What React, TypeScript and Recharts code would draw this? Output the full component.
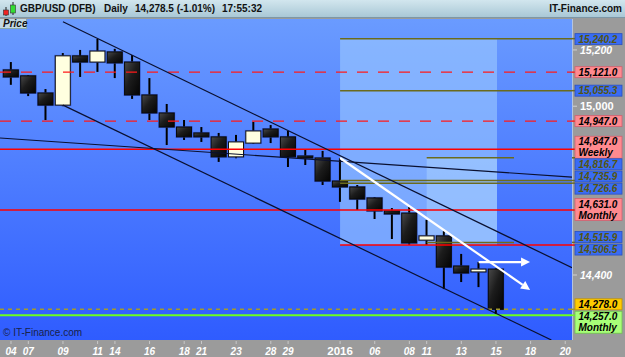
import React from 'react';
import { ComposedChart, Bar, XAxis, YAxis, ReferenceLine, ReferenceArea } from 'recharts';

const FONT = "'Liberation Sans', Arial, sans-serif";

// ---- candle data (GBP/USD x10000, daily) ----
const candleDates = ['2015-12-04','2015-12-07','2015-12-08','2015-12-09','2015-12-10','2015-12-11','2015-12-14','2015-12-15','2015-12-16','2015-12-17','2015-12-18','2015-12-21','2015-12-22','2015-12-23','2015-12-24','2015-12-28','2015-12-29','2015-12-30','2015-12-31','2016-01-04','2016-01-05','2016-01-06','2016-01-07','2016-01-08','2016-01-11','2016-01-12','2016-01-13','2016-01-14','2016-01-15'];
const opens  = [15129,15108,15047,15004,15179,15157,15193,15157,15040,14976,14926,14905,14891,14820,14869,14919,14891,14823,14816,14734,14713,14674,14628,14620,14524,14539,14432,14411,14421];
const highs  = [15157,15111,15061,15189,15200,15239,15204,15182,15100,15008,14951,14926,14905,14898,14944,14933,14912,14848,14841,14816,14720,14677,14638,14642,14596,14556,14475,14446,14425];
const lows   = [15076,15036,14951,15000,15104,15122,15100,15026,14951,14862,14880,14873,14802,14815,14866,14869,14784,14791,14720,14660,14631,14599,14528,14507,14507,14350,14375,14357,14261];
const closes = [15104,15047,15004,15179,15157,15196,15154,15040,14976,14926,14891,14891,14820,14873,14912,14891,14820,14816,14734,14713,14670,14628,14617,14514,14539,14428,14407,14421,14278];

// ---- x axis ticks (slot index -> label) ----
const tickIndex = [0,1,3,5,6,8,10,11,13,15,16,19,21,23,24,26,28,30,32];
const tickText  = ['04','07','09','11','14','16','18','21','23','28','29','2016','06','08','11','13','15','18','20'];

const xDomain = [-0.635, 32.39];
const yDomain = [14169, 15310];

// ---- y axis plain ticks ----
const plainTicks = [15200, 15000, 14400];

// ---- horizontal price levels ----
const levelValues = [15240.2, 15121.0, 15055.3, 14947.0, 14847.0, 14816.7, 14735.9, 14726.6, 14631.0, 14515.9, 14506.5, 14278.0, 14257.0];
const levelNotes  = ['', '', '', '', 'Weekly', '', '', '', 'Monthly', '', '', '', 'Monthly'];
const levelKinds  = ['olive','redDash','olive','redDash','red','olive','olive','olive','red','olive','red','oliveDash','green'];
const levelBoxes  = ['blue','pink','blue','pink','pink','blue','blue','blue','pink','blue','blue','yellow','green'];
const levelFrom   = [19, null, 19, null, null, 24, 19, 19, null, 24, 19, null, null];
const levelTo     = [null, null, null, null, null, 29.04, null, null, null, 29.04, null, null, null];

// ---- trend lines (slot index, price) ----
const upperChannel = [[3, 15300], [32.39, 14426]];
const lowerChannel = [[3, 15004], [31.2, 14169]];
const longLine     = [[-0.635, 14887], [32.39, 14748]];
const arrowDown    = [[19, 14816], [29.97, 14347]];
const arrowFlat    = [[27, 14446], [29.97, 14446]];

// ---- zones ----
const zoneOuter = [19, 28.06, 14506.5, 15240.2];
const zoneInner = [24, 28.06, 14515.9, 14816.7];

const chartData = candleDates.map((d, i) => ({
  idx: i, date: d, o: opens[i], h: highs[i], l: lows[i], c: closes[i], range: [lows[i], highs[i]],
}));

const lineStyles: Record<string, any> = {
  olive: { stroke: '#6b6b1c', strokeWidth: 1.5 },
  redDash: { stroke: '#ff1a1a', strokeWidth: 1.3, strokeDasharray: '11 10' },
  red: { stroke: '#ff0000', strokeWidth: 1.6 },
  oliveDash: { stroke: '#a39a2c', strokeWidth: 1.5, strokeDasharray: '4 4' },
  green: { stroke: '#6cff1e', strokeWidth: 2 },
};
const boxStyles: Record<string, any> = {
  blue: { fill: '#3a6cf4', stroke: '#2a50c0', text: '#55550f' },
  pink: { fill: '#ff8a8f', stroke: '#d06070', text: '#000' },
  yellow: { fill: '#ffcc00', stroke: '#c09000', text: '#000' },
  green: { fill: '#a8ff78', stroke: '#70c050', text: '#000' },
};
const labelShift: Record<string, number> = {
  '15240.2': 0.5, '14847': -7.5, '14816.7': 6.5, '14735.9': -4, '14726.6': 5.5,
  '14631': -6, '14515.9': -5.5, '14506.5': 4.5, '14278': -5, '14257': 1.5,
};

const fmt1 = (v: number) => v.toLocaleString('en-US', { minimumFractionDigits: 1, maximumFractionDigits: 1 });
const fmt0 = (v: number) => v.toLocaleString('en-US', { maximumFractionDigits: 0 });

function Candle(props: any) {
  const { x, y, width, height, payload } = props;
  if (!payload || height == null) return null;
  const { o, h, l, c } = payload;
  const cx = x + width / 2;
  const per = height / ((h - l) || 1);
  const top = y + (h - Math.max(o, c)) * per;
  const bot = y + (h - Math.min(o, c)) * per;
  const up = c > o;
  const bh = Math.max(bot - top, 2);
  return (
    <g>
      <line x1={cx} x2={cx} y1={y} y2={y + height} stroke="#000" strokeWidth={2} />
      <rect x={cx - 8} y={top - 0.5} width={16} height={bh + 1} fill="none" stroke="#2a48c8" strokeOpacity={0.6} strokeWidth={1} />
      <rect x={cx - 7.5} y={top} width={15} height={bh} fill={up ? '#ffffe0' : 'url(#candleDark)'} stroke={up ? '#111' : '#080808'} strokeWidth={1} />
    </g>
  );
}

function arrowShape(props: any) {
  const { x1, y1, x2, y2 } = props;
  const a = Math.atan2(y2 - y1, x2 - x1);
  const L = 9, hw = 4.5;
  const bx = x2 - L * Math.cos(a), by = y2 - L * Math.sin(a);
  const px = -Math.sin(a) * hw, py = Math.cos(a) * hw;
  return (
    <g>
      <line x1={x1} y1={y1} x2={bx} y2={by} stroke="#fff" strokeWidth={2.2} />
      <polygon points={`${x2},${y2} ${bx + px},${by + py} ${bx - px},${by - py}`} fill="#fff" />
    </g>
  );
}

function YTick(props: any) {
  const { x, y, payload } = props;
  const v = payload.value;
  const li = levelValues.indexOf(v);
  if (li < 0) {
    const big = v === 15000;
    return (
      <g>
        <line x1={x + 1} x2={x + 5} y1={y} y2={y} stroke="#d0d0d0" strokeWidth={1} />
        <text x={x + 8} y={y + 4} fill="#ffffff" fontFamily={FONT} fontSize={big ? 11 : 10.5} fontWeight="bold" fontStyle={big ? 'normal' : 'italic'}>{fmt0(v)}</text>
      </g>
    );
  }
  const cy = y + (labelShift[String(v)] || 0);
  const note = levelNotes[li];
  const bs = boxStyles[levelBoxes[li]];
  const ls = lineStyles[levelKinds[li]];
  return (
    <g>
      <line x1={x} x2={x + 3} y1={y} y2={y} stroke={ls.stroke} strokeWidth={1.5} />
      <rect x={x + 3} y={cy - 5.5} width={47} height={note ? 22 : 11} fill={bs.fill} stroke={bs.stroke} strokeWidth={0.8} />
      <text x={x + 6.5} y={cy + 3.6} fill={bs.text} fontFamily={FONT} fontSize={10} fontWeight="bold" fontStyle="italic">{fmt1(v)}</text>
      {note ? <text x={x + 6.5} y={cy + 14.6} fill={bs.text} fontFamily={FONT} fontSize={10} fontWeight="bold" fontStyle="italic">{note}</text> : null}
    </g>
  );
}

function XTick(props: any) {
  const { x, y, payload } = props;
  const k = tickIndex.indexOf(payload.value);
  const label = k >= 0 ? tickText[k] : '';
  const year = label.length === 4;
  return (
    <g>
      <line x1={x} x2={x} y1={y + 1} y2={y + 4} stroke="#c8c8c8" strokeWidth={1} />
      <text x={x} y={y + 15} textAnchor="middle" fill="#ffffff" fontFamily={FONT} fontSize={year ? 11.5 : 10} fontWeight="bold" fontStyle={year ? 'normal' : 'italic'}>{label}</text>
    </g>
  );
}

const yTicks = [...levelValues, ...plainTicks].sort((a, b) => b - a);

export default function App() {
  return (
    <div style={{ position: 'absolute', left: 0, top: 0, width: 625, height: 357, background: '#9b9b9b', overflow: 'hidden', fontFamily: FONT }}>
      {/* header */}
      <div style={{ position: 'absolute', left: 0, top: 0, width: 625, height: 18, background: 'linear-gradient(#d2e6ee, #a9c8d6)', borderBottom: '1px solid #7d97a6', boxSizing: 'border-box' }} />
      <svg style={{ position: 'absolute', left: 2, top: 2 }} width={16} height={15}>
        <line x1={4} x2={4} y1={5} y2={14} stroke="#222" strokeWidth={1} />
        <rect x={1.5} y={8} width={5} height={5} fill="#ee2222" stroke="#333" strokeWidth={0.6} />
        <line x1={11} x2={11} y1={0} y2={13} stroke="#222" strokeWidth={1} />
        <rect x={8.5} y={3} width={5} height={8} fill="#33dd33" stroke="#333" strokeWidth={0.6} />
      </svg>
      <div style={{ position: 'absolute', top: 3, left: 20, fontSize: 10, fontWeight: 'bold', color: '#111', whiteSpace: 'pre' }}>GBP/USD (DFB)</div>
      <div style={{ position: 'absolute', top: 3, left: 104, fontSize: 10, fontWeight: 'bold', color: '#111' }}>Daily</div>
      <div style={{ position: 'absolute', top: 3, left: 135, fontSize: 10, fontWeight: 'bold', color: '#111', whiteSpace: 'pre' }}>14,278.5 (-1.01%)</div>
      <div style={{ position: 'absolute', top: 3, left: 222, fontSize: 10, fontWeight: 'bold', color: '#111' }}>17:55:32</div>
      <div style={{ position: 'absolute', top: 3, right: 3, fontSize: 10, fontWeight: 'bold', color: '#111' }}>IT-Finance.com</div>
      {/* plot background */}
      <div style={{ position: 'absolute', left: 0, top: 19, width: 572, height: 321, background: 'linear-gradient(#6a9bff, #2f5cff)' }} />
      <div style={{ position: 'absolute', left: 572, top: 19, width: 1, height: 321, background: '#b4c4e0' }} />
      <div style={{ position: 'absolute', left: 0, top: 0 }}>
        <ComposedChart width={625} height={357} data={chartData} margin={{ top: 19, right: 0, bottom: 0, left: 0 }}>
          <defs>
            <linearGradient id="candleDark" x1="0" y1="0" x2="1" y2="1">
              <stop offset="0%" stopColor="#4a4a4a" />
              <stop offset="45%" stopColor="#1c1c1c" />
              <stop offset="100%" stopColor="#030303" />
            </linearGradient>
          </defs>
          <XAxis dataKey="idx" type="number" domain={xDomain} allowDataOverflow ticks={tickIndex} interval={0} height={17}
            axisLine={false} tickLine={false} tickSize={0} tickMargin={0} tick={<XTick />} />
          <YAxis type="number" orientation="right" domain={yDomain} allowDataOverflow ticks={yTicks} interval={0} width={53}
            axisLine={false} tickLine={false} tickSize={0} tickMargin={0} tick={<YTick />} />
          <ReferenceArea x1={zoneOuter[0]} x2={zoneOuter[1]} y1={zoneOuter[2]} y2={zoneOuter[3]} fill="#9ccaff" fillOpacity={0.6} stroke="none" ifOverflow="visible" />
          <ReferenceArea x1={zoneInner[0]} x2={zoneInner[1]} y1={zoneInner[2]} y2={zoneInner[3]} fill="#bfe6ff" fillOpacity={0.35} stroke="none" ifOverflow="visible" />
          <Bar dataKey="range" barSize={15} shape={<Candle />} isAnimationActive={false} />
          {levelValues.map((v, i) => (
            <ReferenceLine key={'lv' + i}
              segment={[{ x: levelFrom[i] ?? xDomain[0], y: v }, { x: levelTo[i] ?? xDomain[1], y: v }]}
              ifOverflow="visible" {...lineStyles[levelKinds[i]]} />
          ))}
          {[upperChannel, lowerChannel, longLine].map((s, i) => (
            <ReferenceLine key={'tl' + i} segment={[{ x: s[0][0], y: s[0][1] }, { x: s[1][0], y: s[1][1] }]}
              ifOverflow="hidden" stroke="#0a1030" strokeWidth={1.2} />
          ))}
          {[arrowDown, arrowFlat].map((s, i) => (
            <ReferenceLine key={'ar' + i} segment={[{ x: s[0][0], y: s[0][1] }, { x: s[1][0], y: s[1][1] }]}
              ifOverflow="visible" stroke="#fff" shape={arrowShape} />
          ))}
        </ComposedChart>
      </div>
      {/* Price tag & copyright */}
      <div style={{ position: 'absolute', left: 0, top: 19, width: 27, height: 10, background: '#c4dae3', borderRight: '1px solid #8aa', borderBottom: '1px solid #8aa', boxSizing: 'border-box' }} />
      <div style={{ position: 'absolute', left: 3, top: 18, fontSize: 10, fontWeight: 'bold', fontStyle: 'italic', color: '#111' }}>Price</div>
      <div style={{ position: 'absolute', left: 3, top: 327, fontSize: 10, color: '#18224a' }}>© IT-Finance.com</div>
    </div>
  );
}
